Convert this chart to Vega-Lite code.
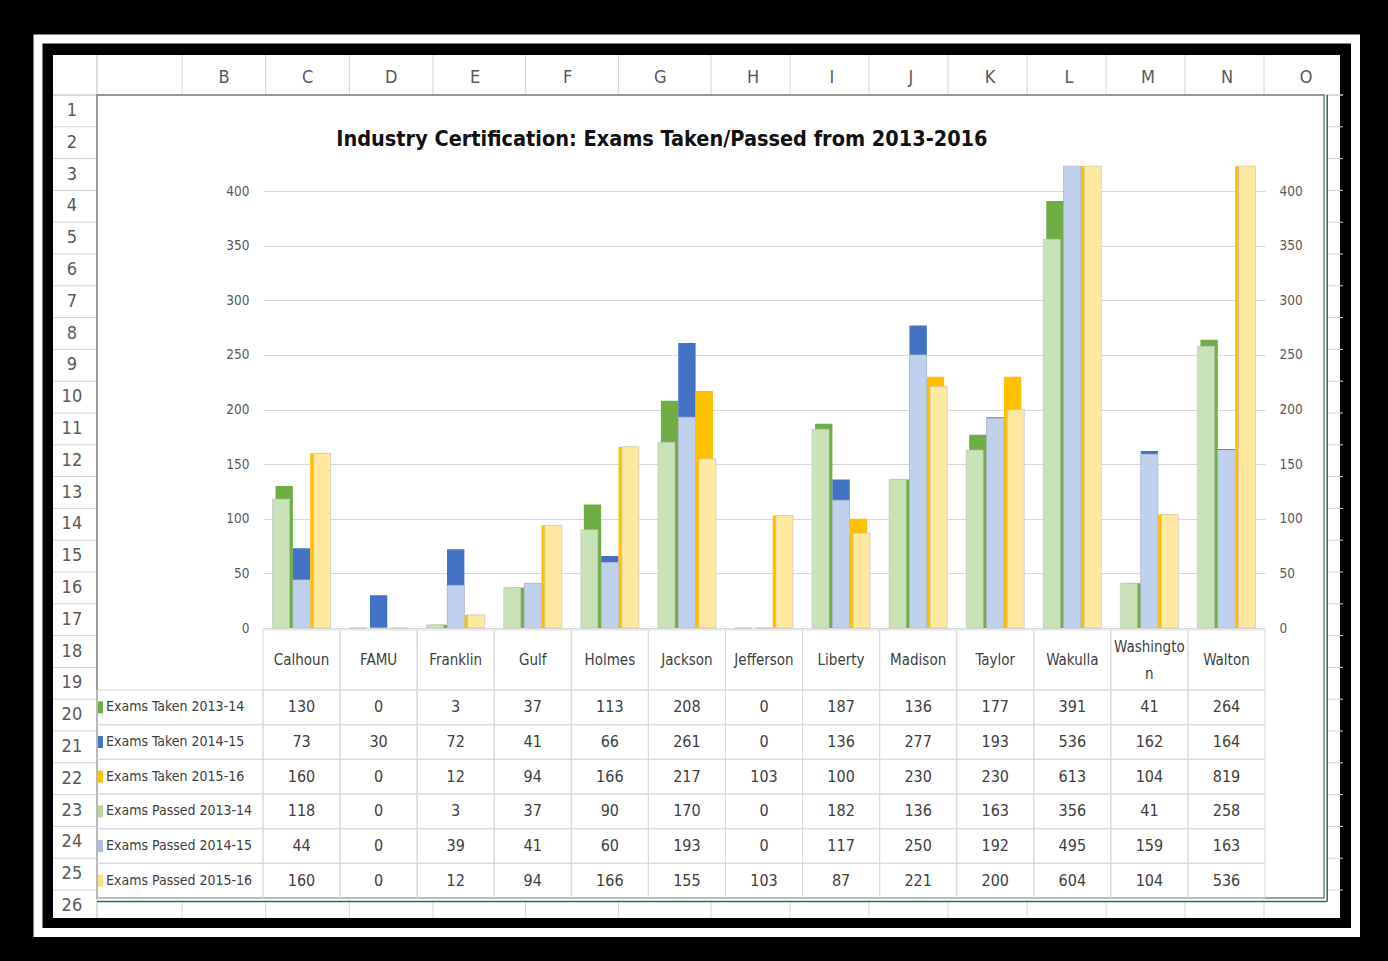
{
  "$schema": "https://vega.github.io/schema/vega-lite/v6.json",
  "width": 1287,
  "height": 863,
  "autosize": {"type": "none"},
  "padding": {"left": 53, "top": 55, "right": 48, "bottom": 43},
  "background": "black",
  "config": {
    "view": {"fill": "white", "stroke": null},
    "font": "Liberation Sans Narrow, DejaVu Sans Condensed, Liberation Sans, sans-serif",
    "text": {"font": "Liberation Sans Narrow, DejaVu Sans Condensed, Liberation Sans, sans-serif"}
  },
  "datasets": {
    "main": [
      {"county":"Calhoun","series":"Exams Taken 2013-14","kind":"Taken","year":"2013-14","value":130},
      {"county":"FAMU","series":"Exams Taken 2013-14","kind":"Taken","year":"2013-14","value":0},
      {"county":"Franklin","series":"Exams Taken 2013-14","kind":"Taken","year":"2013-14","value":3},
      {"county":"Gulf","series":"Exams Taken 2013-14","kind":"Taken","year":"2013-14","value":37},
      {"county":"Holmes","series":"Exams Taken 2013-14","kind":"Taken","year":"2013-14","value":113},
      {"county":"Jackson","series":"Exams Taken 2013-14","kind":"Taken","year":"2013-14","value":208},
      {"county":"Jefferson","series":"Exams Taken 2013-14","kind":"Taken","year":"2013-14","value":0},
      {"county":"Liberty","series":"Exams Taken 2013-14","kind":"Taken","year":"2013-14","value":187},
      {"county":"Madison","series":"Exams Taken 2013-14","kind":"Taken","year":"2013-14","value":136},
      {"county":"Taylor","series":"Exams Taken 2013-14","kind":"Taken","year":"2013-14","value":177},
      {"county":"Wakulla","series":"Exams Taken 2013-14","kind":"Taken","year":"2013-14","value":391},
      {"county":"Washington","series":"Exams Taken 2013-14","kind":"Taken","year":"2013-14","value":41},
      {"county":"Walton","series":"Exams Taken 2013-14","kind":"Taken","year":"2013-14","value":264},
      {"county":"Calhoun","series":"Exams Taken 2014-15","kind":"Taken","year":"2014-15","value":73},
      {"county":"FAMU","series":"Exams Taken 2014-15","kind":"Taken","year":"2014-15","value":30},
      {"county":"Franklin","series":"Exams Taken 2014-15","kind":"Taken","year":"2014-15","value":72},
      {"county":"Gulf","series":"Exams Taken 2014-15","kind":"Taken","year":"2014-15","value":41},
      {"county":"Holmes","series":"Exams Taken 2014-15","kind":"Taken","year":"2014-15","value":66},
      {"county":"Jackson","series":"Exams Taken 2014-15","kind":"Taken","year":"2014-15","value":261},
      {"county":"Jefferson","series":"Exams Taken 2014-15","kind":"Taken","year":"2014-15","value":0},
      {"county":"Liberty","series":"Exams Taken 2014-15","kind":"Taken","year":"2014-15","value":136},
      {"county":"Madison","series":"Exams Taken 2014-15","kind":"Taken","year":"2014-15","value":277},
      {"county":"Taylor","series":"Exams Taken 2014-15","kind":"Taken","year":"2014-15","value":193},
      {"county":"Wakulla","series":"Exams Taken 2014-15","kind":"Taken","year":"2014-15","value":536},
      {"county":"Washington","series":"Exams Taken 2014-15","kind":"Taken","year":"2014-15","value":162},
      {"county":"Walton","series":"Exams Taken 2014-15","kind":"Taken","year":"2014-15","value":164},
      {"county":"Calhoun","series":"Exams Taken 2015-16","kind":"Taken","year":"2015-16","value":160},
      {"county":"FAMU","series":"Exams Taken 2015-16","kind":"Taken","year":"2015-16","value":0},
      {"county":"Franklin","series":"Exams Taken 2015-16","kind":"Taken","year":"2015-16","value":12},
      {"county":"Gulf","series":"Exams Taken 2015-16","kind":"Taken","year":"2015-16","value":94},
      {"county":"Holmes","series":"Exams Taken 2015-16","kind":"Taken","year":"2015-16","value":166},
      {"county":"Jackson","series":"Exams Taken 2015-16","kind":"Taken","year":"2015-16","value":217},
      {"county":"Jefferson","series":"Exams Taken 2015-16","kind":"Taken","year":"2015-16","value":103},
      {"county":"Liberty","series":"Exams Taken 2015-16","kind":"Taken","year":"2015-16","value":100},
      {"county":"Madison","series":"Exams Taken 2015-16","kind":"Taken","year":"2015-16","value":230},
      {"county":"Taylor","series":"Exams Taken 2015-16","kind":"Taken","year":"2015-16","value":230},
      {"county":"Wakulla","series":"Exams Taken 2015-16","kind":"Taken","year":"2015-16","value":613},
      {"county":"Washington","series":"Exams Taken 2015-16","kind":"Taken","year":"2015-16","value":104},
      {"county":"Walton","series":"Exams Taken 2015-16","kind":"Taken","year":"2015-16","value":819},
      {"county":"Calhoun","series":"Exams Passed 2013-14","kind":"Passed","year":"2013-14","value":118},
      {"county":"FAMU","series":"Exams Passed 2013-14","kind":"Passed","year":"2013-14","value":0},
      {"county":"Franklin","series":"Exams Passed 2013-14","kind":"Passed","year":"2013-14","value":3},
      {"county":"Gulf","series":"Exams Passed 2013-14","kind":"Passed","year":"2013-14","value":37},
      {"county":"Holmes","series":"Exams Passed 2013-14","kind":"Passed","year":"2013-14","value":90},
      {"county":"Jackson","series":"Exams Passed 2013-14","kind":"Passed","year":"2013-14","value":170},
      {"county":"Jefferson","series":"Exams Passed 2013-14","kind":"Passed","year":"2013-14","value":0},
      {"county":"Liberty","series":"Exams Passed 2013-14","kind":"Passed","year":"2013-14","value":182},
      {"county":"Madison","series":"Exams Passed 2013-14","kind":"Passed","year":"2013-14","value":136},
      {"county":"Taylor","series":"Exams Passed 2013-14","kind":"Passed","year":"2013-14","value":163},
      {"county":"Wakulla","series":"Exams Passed 2013-14","kind":"Passed","year":"2013-14","value":356},
      {"county":"Washington","series":"Exams Passed 2013-14","kind":"Passed","year":"2013-14","value":41},
      {"county":"Walton","series":"Exams Passed 2013-14","kind":"Passed","year":"2013-14","value":258},
      {"county":"Calhoun","series":"Exams Passed 2014-15","kind":"Passed","year":"2014-15","value":44},
      {"county":"FAMU","series":"Exams Passed 2014-15","kind":"Passed","year":"2014-15","value":0},
      {"county":"Franklin","series":"Exams Passed 2014-15","kind":"Passed","year":"2014-15","value":39},
      {"county":"Gulf","series":"Exams Passed 2014-15","kind":"Passed","year":"2014-15","value":41},
      {"county":"Holmes","series":"Exams Passed 2014-15","kind":"Passed","year":"2014-15","value":60},
      {"county":"Jackson","series":"Exams Passed 2014-15","kind":"Passed","year":"2014-15","value":193},
      {"county":"Jefferson","series":"Exams Passed 2014-15","kind":"Passed","year":"2014-15","value":0},
      {"county":"Liberty","series":"Exams Passed 2014-15","kind":"Passed","year":"2014-15","value":117},
      {"county":"Madison","series":"Exams Passed 2014-15","kind":"Passed","year":"2014-15","value":250},
      {"county":"Taylor","series":"Exams Passed 2014-15","kind":"Passed","year":"2014-15","value":192},
      {"county":"Wakulla","series":"Exams Passed 2014-15","kind":"Passed","year":"2014-15","value":495},
      {"county":"Washington","series":"Exams Passed 2014-15","kind":"Passed","year":"2014-15","value":159},
      {"county":"Walton","series":"Exams Passed 2014-15","kind":"Passed","year":"2014-15","value":163},
      {"county":"Calhoun","series":"Exams Passed 2015-16","kind":"Passed","year":"2015-16","value":160},
      {"county":"FAMU","series":"Exams Passed 2015-16","kind":"Passed","year":"2015-16","value":0},
      {"county":"Franklin","series":"Exams Passed 2015-16","kind":"Passed","year":"2015-16","value":12},
      {"county":"Gulf","series":"Exams Passed 2015-16","kind":"Passed","year":"2015-16","value":94},
      {"county":"Holmes","series":"Exams Passed 2015-16","kind":"Passed","year":"2015-16","value":166},
      {"county":"Jackson","series":"Exams Passed 2015-16","kind":"Passed","year":"2015-16","value":155},
      {"county":"Jefferson","series":"Exams Passed 2015-16","kind":"Passed","year":"2015-16","value":103},
      {"county":"Liberty","series":"Exams Passed 2015-16","kind":"Passed","year":"2015-16","value":87},
      {"county":"Madison","series":"Exams Passed 2015-16","kind":"Passed","year":"2015-16","value":221},
      {"county":"Taylor","series":"Exams Passed 2015-16","kind":"Passed","year":"2015-16","value":200},
      {"county":"Wakulla","series":"Exams Passed 2015-16","kind":"Passed","year":"2015-16","value":604},
      {"county":"Washington","series":"Exams Passed 2015-16","kind":"Passed","year":"2015-16","value":104},
      {"county":"Walton","series":"Exams Passed 2015-16","kind":"Passed","year":"2015-16","value":536}
    ],
    "counties": [
      {"county":"Calhoun","label":"Calhoun"},
      {"county":"FAMU","label":"FAMU"},
      {"county":"Franklin","label":"Franklin"},
      {"county":"Gulf","label":"Gulf"},
      {"county":"Holmes","label":"Holmes"},
      {"county":"Jackson","label":"Jackson"},
      {"county":"Jefferson","label":"Jefferson"},
      {"county":"Liberty","label":"Liberty"},
      {"county":"Madison","label":"Madison"},
      {"county":"Taylor","label":"Taylor"},
      {"county":"Wakulla","label":"Wakulla"},
      {"county":"Washington","label":"Washingto\nn"},
      {"county":"Walton","label":"Walton"}
    ],
    "cols": [
      {"col":"A","n":1},{"col":"B","n":2},{"col":"C","n":3},{"col":"D","n":4},{"col":"E","n":5},
      {"col":"F","n":6},{"col":"G","n":7},{"col":"H","n":8},{"col":"I","n":9},{"col":"J","n":10},
      {"col":"K","n":11},{"col":"L","n":12},{"col":"M","n":13},{"col":"N","n":14},{"col":"O","n":15}
    ],
    "rows": [
      {"row":1},{"row":2},{"row":3},{"row":4},{"row":5},{"row":6},{"row":7},{"row":8},{"row":9},
      {"row":10},{"row":11},{"row":12},{"row":13},{"row":14},{"row":15},{"row":16},{"row":17},
      {"row":18},{"row":19},{"row":20},{"row":21},{"row":22},{"row":23},{"row":24},{"row":25},{"row":26}
    ]
  },
  "layer": [
    {
      "data": {"values": [{"frame": "window"}]},
      "mark": {"type": "rect", "filled": false, "stroke": "white", "strokeWidth": 9},
      "encoding": {
        "x": {"field": "frame", "type": "nominal", "scale": {"type": "band", "range": [-15, 1302.5], "paddingInner": 0, "paddingOuter": 0}, "axis": null},
        "y": {"field": "frame", "type": "nominal", "scale": {"type": "band", "range": [-16, 877.5], "paddingInner": 0, "paddingOuter": 0}, "axis": null}
      }
    },
    {
      "data": {"name": "cols"},
      "mark": {"type": "rule", "color": "#d4d4d4", "strokeWidth": 1},
      "encoding": {
        "x": {"field": "n", "type": "quantitative", "scale": {"type": "linear", "domain": [0,1,2,5,8,16], "range": [0,44,129,380,658,1290], "zero": false, "nice": false}, "axis": null},
        "y": {"datum": 0, "type": "quantitative", "scale": {"type": "linear", "domain": [0,1,27], "range": [0,40,866.8], "zero": false, "nice": false}, "axis": null},
        "y2": {"datum": 1}
      }
    },
    {
      "data": {"name": "cols"},
      "mark": {"type": "rule", "color": "#d4d4d4", "strokeWidth": 1},
      "encoding": {
        "x": {"field": "n", "type": "quantitative", "scale": {"type": "linear", "domain": [0,1,2,5,8,16], "range": [0,44,129,380,658,1290], "zero": false, "nice": false}, "axis": null},
        "y": {"datum": 26.35, "type": "quantitative", "scale": {"type": "linear", "domain": [0,1,27], "range": [0,40,866.8], "zero": false, "nice": false}, "axis": null},
        "y2": {"datum": 26.88}
      }
    },
    {
      "data": {"name": "cols"},
      "transform": [{"filter": "datum.col !== 'A'"}],
      "mark": {"type": "text", "fontSize": 18, "color": "#595959", "dx": 42, "baseline": "middle", "align": "center"},
      "encoding": {
        "x": {"field": "n", "type": "quantitative", "scale": {"type": "linear", "domain": [0,1,2,5,8,16], "range": [0,44,129,380,658,1290], "zero": false, "nice": false}, "axis": null},
        "y": {"datum": 0.58, "type": "quantitative", "scale": {"type": "linear", "domain": [0,1,27], "range": [0,40,866.8], "zero": false, "nice": false}, "axis": null},
        "text": {"field": "col"}
      }
    },
    {
      "data": {"name": "rows"},
      "mark": {"type": "rule", "color": "#d4d4d4", "strokeWidth": 1},
      "encoding": {
        "x": {"datum": 0, "type": "quantitative", "scale": {"type": "linear", "domain": [0,1,2,5,8,16], "range": [0,44,129,380,658,1290], "zero": false, "nice": false}, "axis": null},
        "x2": {"datum": 1},
        "y": {"field": "row", "type": "quantitative", "scale": {"type": "linear", "domain": [0,1,27], "range": [0,40,866.8], "zero": false, "nice": false}, "axis": null}
      }
    },
    {
      "data": {"name": "rows"},
      "mark": {"type": "rule", "color": "#d4d4d4", "strokeWidth": 1},
      "encoding": {
        "x": {"datum": 15.8, "type": "quantitative", "scale": {"type": "linear", "domain": [0,1,2,5,8,16], "range": [0,44,129,380,658,1290], "zero": false, "nice": false}, "axis": null},
        "x2": {"datum": 16},
        "y": {"field": "row", "type": "quantitative", "scale": {"type": "linear", "domain": [0,1,27], "range": [0,40,866.8], "zero": false, "nice": false}, "axis": null}
      }
    },
    {
      "data": {"name": "rows"},
      "mark": {"type": "text", "fontSize": 18, "color": "#595959", "dy": 16, "baseline": "middle", "align": "center"},
      "encoding": {
        "x": {"datum": 0.43, "type": "quantitative", "scale": {"type": "linear", "domain": [0,1,2,5,8,16], "range": [0,44,129,380,658,1290], "zero": false, "nice": false}, "axis": null},
        "y": {"field": "row", "type": "quantitative", "scale": {"type": "linear", "domain": [0,1,27], "range": [0,40,866.8], "zero": false, "nice": false}, "axis": null},
        "text": {"field": "row"}
      }
    },
    {
      "data": {"values": [{}]},
      "mark": {"type": "rule", "color": "#d0d0d0", "strokeWidth": 1},
      "encoding": {
        "x": {"datum": 1, "type": "quantitative", "scale": {"type": "linear", "domain": [0,1,2,5,8,16], "range": [0,44,129,380,658,1290], "zero": false, "nice": false}, "axis": null},
        "y": {"datum": 0, "type": "quantitative", "scale": {"type": "linear", "domain": [0,1,27], "range": [0,40,866.8], "zero": false, "nice": false}, "axis": null},
        "y2": {"datum": 26.88}
      }
    },
    {
      "data": {"values": [{}]},
      "mark": {"type": "rule", "color": "#c8c8c8", "strokeWidth": 1},
      "encoding": {
        "x": {"datum": 0, "type": "quantitative", "scale": {"type": "linear", "domain": [0,1,2,5,8,16], "range": [0,44,129,380,658,1290], "zero": false, "nice": false}, "axis": null},
        "x2": {"datum": 16},
        "y": {"datum": 1, "type": "quantitative", "scale": {"type": "linear", "domain": [0,1,27], "range": [0,40,866.8], "zero": false, "nice": false}, "axis": null}
      }
    },
    {
      "data": {"values": [{}]},
      "mark": {"type": "rect", "filled": false, "stroke": "#7f7f7f", "strokeWidth": 1.5},
      "encoding": {
        "x": {"datum": 1, "type": "quantitative", "scale": {"type": "linear", "domain": [0,1,2,5,8,16], "range": [0,44,129,380,658,1290], "zero": false, "nice": false}, "axis": null},
        "x2": {"datum": 15.76},
        "y": {"datum": 1, "type": "quantitative", "scale": {"type": "linear", "domain": [0,1,27], "range": [0,40,866.8], "zero": false, "nice": false}, "axis": null},
        "y2": {"datum": 26.25}
      }
    },
    {
      "data": {"values": [{}]},
      "mark": {"type": "rule", "color": "#217346", "strokeWidth": 1.5},
      "encoding": {
        "x": {"datum": 15.8, "type": "quantitative", "scale": {"type": "linear", "domain": [0,1,2,5,8,16], "range": [0,44,129,380,658,1290], "zero": false, "nice": false}, "axis": null},
        "y": {"datum": 1, "type": "quantitative", "scale": {"type": "linear", "domain": [0,1,27], "range": [0,40,866.8], "zero": false, "nice": false}, "axis": null},
        "y2": {"datum": 26.36}
      }
    },
    {
      "data": {"values": [{}]},
      "mark": {"type": "rule", "color": "#217346", "strokeWidth": 1.5},
      "encoding": {
        "x": {"datum": 1, "type": "quantitative", "scale": {"type": "linear", "domain": [0,1,2,5,8,16], "range": [0,44,129,380,658,1290], "zero": false, "nice": false}, "axis": null},
        "x2": {"datum": 15.8},
        "y": {"datum": 26.36, "type": "quantitative", "scale": {"type": "linear", "domain": [0,1,27], "range": [0,40,866.8], "zero": false, "nice": false}, "axis": null}
      }
    },
    {
      "data": {"name": "counties"},
      "mark": {"type": "rect", "filled": false, "stroke": "#d9d9d9", "strokeWidth": 1},
      "encoding": {
        "x": {"field": "county", "type": "nominal", "scale": {"type": "band", "domain": ["Calhoun","FAMU","Franklin","Gulf","Holmes","Jackson","Jefferson","Liberty","Madison","Taylor","Wakulla","Washington","Walton"], "range": [210, 1212], "paddingInner": 0, "paddingOuter": 0}, "axis": null},
        "y": {"datum": "hdr", "type": "nominal", "scale": {"type": "band", "domain": ["hdr"], "range": [575, 635], "paddingInner": 0, "paddingOuter": 0}, "axis": null}
      }
    },
    {
      "data": {"name": "counties"},
      "transform": [{"filter": "datum.county !== 'Washington'"}],
      "mark": {"type": "text", "fontSize": 15, "color": "#404040", "baseline": "middle", "align": "center"},
      "encoding": {
        "x": {"field": "county", "type": "nominal", "scale": {"type": "band", "domain": ["Calhoun","FAMU","Franklin","Gulf","Holmes","Jackson","Jefferson","Liberty","Madison","Taylor","Wakulla","Washington","Walton"], "range": [210, 1212], "paddingInner": 0, "paddingOuter": 0}, "axis": null},
        "y": {"datum": "hdr", "type": "nominal", "scale": {"type": "band", "domain": ["hdr"], "range": [575, 635], "paddingInner": 0, "paddingOuter": 0}, "axis": null},
        "text": {"field": "label"}
      }
    },
    {
      "data": {"name": "counties"},
      "transform": [{"filter": "datum.county === 'Washington'"}],
      "mark": {"type": "text", "fontSize": 15, "color": "#404040", "lineBreak": "\n", "lineHeight": 27, "dy": -13.5, "baseline": "middle", "align": "center"},
      "encoding": {
        "x": {"field": "county", "type": "nominal", "scale": {"type": "band", "domain": ["Calhoun","FAMU","Franklin","Gulf","Holmes","Jackson","Jefferson","Liberty","Madison","Taylor","Wakulla","Washington","Walton"], "range": [210, 1212], "paddingInner": 0, "paddingOuter": 0}, "axis": null},
        "y": {"datum": "hdr", "type": "nominal", "scale": {"type": "band", "domain": ["hdr"], "range": [575, 635], "paddingInner": 0, "paddingOuter": 0}, "axis": null},
        "text": {"field": "label"}
      }
    },
    {
      "data": {"name": "main"},
      "transform": [{"filter": "datum.county === 'Calhoun'"}],
      "mark": {"type": "rect", "filled": false, "stroke": "#d9d9d9", "strokeWidth": 1},
      "encoding": {
        "x": {"datum": "label", "type": "nominal", "scale": {"type": "band", "domain": ["label"], "range": [44, 210], "paddingInner": 0, "paddingOuter": 0}, "axis": null},
        "y": {"field": "series", "type": "nominal", "scale": {"type": "band", "domain": ["Exams Taken 2013-14","Exams Taken 2014-15","Exams Taken 2015-16","Exams Passed 2013-14","Exams Passed 2014-15","Exams Passed 2015-16"], "range": [635, 843], "paddingInner": 0, "paddingOuter": 0}, "axis": null}
      }
    },
    {
      "data": {"name": "main"},
      "transform": [{"filter": "datum.county === 'Calhoun'"}],
      "mark": {"type": "text", "fontSize": 14, "color": "#404040", "align": "left", "dx": -74, "baseline": "middle"},
      "encoding": {
        "x": {"datum": "label", "type": "nominal", "scale": {"type": "band", "domain": ["label"], "range": [44, 210], "paddingInner": 0, "paddingOuter": 0}, "axis": null},
        "y": {"field": "series", "type": "nominal", "scale": {"type": "band", "domain": ["Exams Taken 2013-14","Exams Taken 2014-15","Exams Taken 2015-16","Exams Passed 2013-14","Exams Passed 2014-15","Exams Passed 2015-16"], "range": [635, 843], "paddingInner": 0, "paddingOuter": 0}, "axis": null},
        "text": {"field": "series"}
      }
    },
    {
      "data": {"name": "main"},
      "transform": [{"filter": "datum.county === 'Calhoun'"}],
      "mark": {"type": "point", "shape": "M-0.5,-1.2L0.5,-1.2L0.5,1.2L-0.5,1.2Z", "size": 100, "filled": true, "opacity": 1, "xOffset": -79.5},
      "encoding": {
        "x": {"datum": "label", "type": "nominal", "scale": {"type": "band", "domain": ["label"], "range": [44, 210], "paddingInner": 0, "paddingOuter": 0}, "axis": null},
        "y": {"field": "series", "type": "nominal", "scale": {"type": "band", "domain": ["Exams Taken 2013-14","Exams Taken 2014-15","Exams Taken 2015-16","Exams Passed 2013-14","Exams Passed 2014-15","Exams Passed 2015-16"], "range": [635, 843], "paddingInner": 0, "paddingOuter": 0}, "axis": null},
        "color": {"field": "series", "type": "nominal", "scale": {"domain": ["Exams Taken 2013-14","Exams Taken 2014-15","Exams Taken 2015-16","Exams Passed 2013-14","Exams Passed 2014-15","Exams Passed 2015-16"], "range": ["#70ad47","#4472c4","#ffc000","#b5d99c","#a9c0e6","#ffe083"]}, "legend": null}
      }
    },
    {
      "data": {"name": "main"},
      "mark": {"type": "rect", "filled": false, "stroke": "#d9d9d9", "strokeWidth": 1},
      "encoding": {
        "x": {"field": "county", "type": "nominal", "scale": {"type": "band", "domain": ["Calhoun","FAMU","Franklin","Gulf","Holmes","Jackson","Jefferson","Liberty","Madison","Taylor","Wakulla","Washington","Walton"], "range": [210, 1212], "paddingInner": 0, "paddingOuter": 0}, "axis": null},
        "y": {"field": "series", "type": "nominal", "scale": {"type": "band", "domain": ["Exams Taken 2013-14","Exams Taken 2014-15","Exams Taken 2015-16","Exams Passed 2013-14","Exams Passed 2014-15","Exams Passed 2015-16"], "range": [635, 843], "paddingInner": 0, "paddingOuter": 0}, "axis": null}
      }
    },
    {
      "data": {"name": "main"},
      "mark": {"type": "text", "fontSize": 16, "color": "#404040", "baseline": "middle", "align": "center"},
      "encoding": {
        "x": {"field": "county", "type": "nominal", "scale": {"type": "band", "domain": ["Calhoun","FAMU","Franklin","Gulf","Holmes","Jackson","Jefferson","Liberty","Madison","Taylor","Wakulla","Washington","Walton"], "range": [210, 1212], "paddingInner": 0, "paddingOuter": 0}, "axis": null},
        "y": {"field": "series", "type": "nominal", "scale": {"type": "band", "domain": ["Exams Taken 2013-14","Exams Taken 2014-15","Exams Taken 2015-16","Exams Passed 2013-14","Exams Passed 2014-15","Exams Passed 2015-16"], "range": [635, 843], "paddingInner": 0, "paddingOuter": 0}, "axis": null},
        "text": {"field": "value", "type": "quantitative"}
      }
    },
    {
      "data": {"name": "main"},
      "transform": [{"filter": "datum.kind === 'Taken'"}],
      "mark": {"type": "bar"},
      "encoding": {
        "x": {"field": "county", "type": "nominal", "scale": {"type": "band", "domain": ["Calhoun","FAMU","Franklin","Gulf","Holmes","Jackson","Jefferson","Liberty","Madison","Taylor","Wakulla","Washington","Walton"], "range": [210, 1212], "paddingInner": 0, "paddingOuter": 0}, "axis": null},
        "xOffset": {"field": "year", "type": "nominal", "scale": {"type": "band", "domain": ["2013-14","2014-15","2015-16"], "paddingInner": 0, "paddingOuter": 0.72}},
        "y": {"field": "value", "type": "quantitative", "scale": {"domain": [0, 423], "range": [573, 111], "clamp": true, "nice": false, "zero": true},
              "axis": {"orient": "left", "offset": -200, "values": [0,50,100,150,200,250,300,350,400], "grid": true, "gridColor": "#d9d9d9", "gridWidth": 1, "domain": false, "ticks": false, "tickSize": 0, "labelPadding": 4, "labelFontSize": 13.5, "labelColor": "#595959", "labelFont": "Liberation Sans Narrow, DejaVu Sans Condensed, Liberation Sans, sans-serif", "title": null}},
        "color": {"field": "year", "type": "nominal", "scale": {"domain": ["2013-14","2014-15","2015-16"], "range": ["#70ad47","#4472c4","#ffc000"]}, "legend": null}
      }
    },
    {
      "data": {"name": "main"},
      "transform": [{"filter": "datum.kind === 'Passed'"}],
      "mark": {"type": "bar", "stroke": "#bfbfbf", "strokeWidth": 0.6},
      "encoding": {
        "x": {"field": "county", "type": "nominal", "scale": {"type": "band", "domain": ["Calhoun","FAMU","Franklin","Gulf","Holmes","Jackson","Jefferson","Liberty","Madison","Taylor","Wakulla","Washington","Walton"], "range": [210, 1212], "paddingInner": 0, "paddingOuter": 0}, "axis": null},
        "xOffset": {"field": "year", "type": "nominal", "scale": {"type": "band", "domain": ["2013-14","2014-15","2015-16"], "paddingInner": 0.17, "paddingOuter": 0.463}},
        "y": {"field": "value", "type": "quantitative", "scale": {"domain": [0, 423], "range": [573, 111], "clamp": true, "nice": false, "zero": true},
              "axis": {"orient": "right", "offset": -65, "values": [0,50,100,150,200,250,300,350,400], "grid": false, "domain": false, "ticks": false, "tickSize": 0, "labelPadding": 4, "labelFontSize": 13.5, "labelColor": "#595959", "labelFont": "Liberation Sans Narrow, DejaVu Sans Condensed, Liberation Sans, sans-serif", "title": null}},
        "color": {"field": "year", "type": "nominal", "scale": {"domain": ["2013-14","2014-15","2015-16"], "range": ["#c9e2b8","#c0d1ee","#ffe8a0"]}, "legend": null}
      }
    },
    {
      "data": {"values": [{"title": "Industry Certification: Exams Taken/Passed from 2013-2016"}]},
      "mark": {"type": "text", "fontSize": 21.5, "fontWeight": "bold", "color": "#111111", "baseline": "alphabetic", "align": "center"},
      "encoding": {
        "x": {"datum": 7.47, "type": "quantitative", "scale": {"type": "linear", "domain": [0,1,2,5,8,16], "range": [0,44,129,380,658,1290], "zero": false, "nice": false}, "axis": null},
        "y": {"datum": 2.6, "type": "quantitative", "scale": {"type": "linear", "domain": [0,1,27], "range": [0,40,866.8], "zero": false, "nice": false}, "axis": null},
        "text": {"field": "title"}
      }
    }
  ],
  "resolve": {
    "scale": {"x": "independent", "y": "independent", "xOffset": "independent", "color": "independent"},
    "axis": {"x": "independent", "y": "independent"},
    "legend": {"color": "independent"}
  }
}
